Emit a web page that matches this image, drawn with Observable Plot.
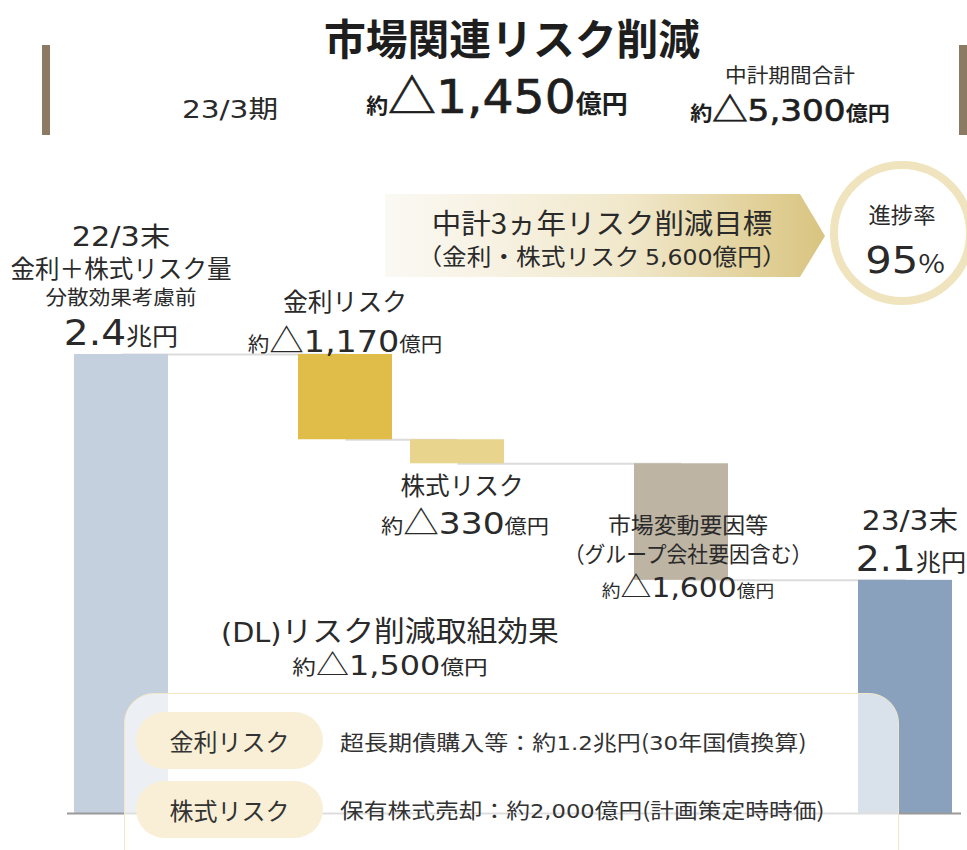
<!DOCTYPE html>
<html><head><meta charset="utf-8">
<script src="https://cdn.jsdelivr.net/npm/d3@7"></script>
<script src="https://cdn.jsdelivr.net/npm/@observablehq/plot@0.6"></script>
<style>
body{margin:0;background:#fff;}
#root{position:relative;width:967px;height:850px;overflow:hidden;font-family:"Noto Sans CJK JP","Noto Sans",sans-serif;color:#2a2a2a;}
#root svg.plot{position:absolute;left:0;top:0;}
.t{position:absolute;white-space:nowrap;line-height:1;transform:translate(-50%,-50%);}
.l{position:absolute;white-space:nowrap;line-height:1;transform:translateY(-50%);transform-origin:left center;}
.n{font-family:"DejaVu Sans",sans-serif;}
.box{position:absolute;left:124px;top:693px;width:775px;height:190px;border-radius:30px;background:rgba(255,255,255,0.68);border:1.5px solid #f2e8c6;box-sizing:border-box;}
.pill{position:absolute;width:187px;height:57px;border-radius:29px;background:#f8efd6;display:flex;align-items:center;justify-content:center;font-size:24px;color:#333;}
</style></head>
<body><div id="root"></div>
<script>
// ---- data (億円) ----
const categories = ["22/3末", "金利リスク", "株式リスク", "市場変動要因等", "23/3末"];
const startTotal = 24000;               // 2.4兆円
const changes = [-1170, -330, -1600];   // 金利, 株式, 市場変動要因等
const barColors = ["#c5d0df", "#dfbd48", "#e8d48c", "#bdb4a3", "#8aa1be"];
const slotOrder = ["22/3末", "_g1", "金利リスク", "株式リスク", "_g2", "市場変動要因等", "_g3", "23/3末"];
const yFloor = 17700;                   // truncated axis floor

// ---- build waterfall rows ----
const rows = [{cat: categories[0], y1: yFloor, y2: startTotal, color: barColors[0]}];
let level = startTotal;
changes.forEach((c, i) => {
  rows.push({cat: categories[i + 1], y1: level, y2: level + c, color: barColors[i + 1]});
  level += c;
});
rows.push({cat: categories[4], y1: yFloor, y2: level, color: barColors[4]});
const connectors = rows.slice(0, -1).map((r, i) => ({a: r.cat, b: rows[i + 1].cat, y: r.y2}));

const chart = Plot.plot({
  width: 967, height: 850, margin: 0,
  x: {type: "band", domain: slotOrder, range: [65, 961], paddingInner: 0.16, paddingOuter: 0.08, axis: null},
  y: {domain: [yFloor, startTotal], range: [813, 354], axis: null},
  color: {type: "identity"},
  marks: [
    Plot.link(connectors, {x1: "a", x2: "b", y1: "y", y2: "y", stroke: "#dcdcdc", strokeWidth: 2}),
    Plot.barY(rows, {x: "cat", y1: "y1", y2: "y2", fill: "color"}),
    Plot.ruleY([yFloor], {stroke: "#9a9a9a", strokeWidth: 2, insetLeft: 67, insetRight: 6})
  ]
});
chart.classList.add("plot");
const root = document.getElementById("root");
root.appendChild(chart);

const xs = chart.scale("x"), ys = chart.scale("y");
const cx = (c) => xs.apply(c) + xs.bandwidth / 2;
const Y = (v) => ys.apply(v);

// place a text block centred at (x, y); optionally fit it to width w
function put(html, x, y, size, w, style = "", cls = "t") {
  const d = document.createElement("div");
  d.className = cls;
  d.style.cssText = `left:${x}px;top:${y}px;font-size:${size}px;${style}`;
  d.innerHTML = html;
  root.appendChild(d);
  if (w) {
    const k = Math.max(0.8, Math.min(1.3, w / d.offsetWidth));
    d.style.transform = (cls === "t" ? "translate(-50%,-50%)" : "translateY(-50%)") + ` scaleX(${k})`;
  }
  return d;
}
const s = (t, px, w = "") => `<span style="font-size:${px}px;${w}">${t}</span>`;
const n = (t, px, w = "") => `<span class="n" style="font-size:${px}px;${w}">${t}</span>`;

// ---- decorative header / banner ----
const deco = document.createElementNS("http://www.w3.org/2000/svg", "svg");
deco.setAttribute("width", 967); deco.setAttribute("height", 850);
deco.style.cssText = "position:absolute;left:0;top:0;";
deco.innerHTML = `
<defs><linearGradient id="g" x1="0" x2="1"><stop offset="0" stop-color="#fbf9f4"/><stop offset="0.55" stop-color="#f1e8cb"/><stop offset="1" stop-color="#d9c480"/></linearGradient></defs>
<rect x="42" y="45" width="8" height="90" fill="#8c7b62"/>
<rect x="959" y="45" width="8" height="90" fill="#8c7b62"/>
<polygon points="385,194 800,194 825,236 800,277 385,277" fill="url(#g)"/>
<circle cx="902" cy="233" r="68" fill="#fff" stroke="#efe4bd" stroke-width="8"/>`;
root.insertBefore(deco, chart);

const B = "font-weight:700;";
const M = "-webkit-text-stroke:0.7px #1e1e1e;";
put("市場関連リスク削減", 512, 37, 42, 376, "font-weight:700;color:#1e1e1e;");
put(n("23/3", 25) + s("期", 25), 230, 108, 25, 96);
put(s("約", 21, B) + s("△", 46, M) + n("1,450", 47, M) + s("億円", 25, B), 497, 94, 47, 262, "color:#1e1e1e;");
put("中計期間合計", 790, 75, 20, 130);
put(s("約", 20, B) + s("△", 32, M) + n("5,300", 31, M) + s("億円", 20, B), 790, 108, 31, 200, "color:#1e1e1e;");

put("中計3ヵ年リスク削減目標", 602, 222, 28, 341);
put("（金利・株式リスク " + n("5,600", 22) + "億円）", 602, 256, 23, 369);
put("進捗率", 902, 213, 22, 67);
put(n("95", 38) + s("%", 26), 905, 258, 38, 79);

// ---- bar labels (anchored to bars via scales) ----
const r0 = rows[0], r1 = rows[1], r2 = rows[2], r3 = rows[3], r4 = rows[4];
put(n("22/3", 26) + "末", cx(r0.cat), Y(r0.y2) - 118, 26, 98);
put("金利＋株式リスク量", cx(r0.cat), Y(r0.y2) - 87, 25, 221);
put("分散効果考慮前", cx(r0.cat), Y(r0.y2) - 57, 20, 151);
put(n("2.4", 36) + s("兆円", 24), cx(r0.cat), Y(r0.y2) - 23, 36, 114);

put("金利リスク", cx(r1.cat), Y(r1.y1) - 54, 25, 124);
put(s("約", 20) + s("△", 32) + n("1,170", 31) + s("億円", 20), cx(r1.cat), Y(r1.y1) - 15, 31, 195);

put("株式リスク", cx(r2.cat) + 5, Y(r2.y2) + 21, 25, 123);
put(s("約", 20) + s("△", 32) + n("330", 31) + s("億円", 20), cx(r2.cat) + 8, Y(r2.y2) + 58, 31, 168);

put("市場変動要因等", cx(r3.cat) + 7, Y(r3.y2) - 57, 22, 160);
put("（グループ会社要因含む）", cx(r3.cat) + 7, Y(r3.y2) - 28, 22, 249);
put(s("約", 17) + s("△", 28) + n("1,600", 27) + s("億円", 17), cx(r3.cat) + 7, Y(r3.y2) + 6, 27, 172);

put(n("23/3", 26) + "末", cx(r4.cat) + 5, Y(r4.y2) - 60, 26, 96);
put(n("2.1", 36) + s("兆円", 24), cx(r4.cat) + 6, Y(r4.y2) - 23, 36, 110);

const dlX = (cx(r1.cat) + cx(r2.cat)) / 2 - 11;
put(n("(DL)", 27) + "リスク削減取組効果", dlX, Y(r2.y2) + 167, 29, 338);
put(s("約", 20) + s("△", 28) + n("1,500", 27) + s("億円", 20), dlX, Y(r2.y2) + 201, 27, 195);

// ---- bottom note box ----
const box = document.createElement("div"); box.className = "box"; root.appendChild(box);
const p1 = document.createElement("div"); p1.className = "pill"; p1.style.cssText = "left:136px;top:712px;"; p1.textContent = "金利リスク"; root.appendChild(p1);
const p2 = document.createElement("div"); p2.className = "pill"; p2.style.cssText = "left:136px;top:781px;"; p2.textContent = "株式リスク"; root.appendChild(p2);
put("超長期債購入等：約" + n("1.2", 20) + "兆円(" + n("30", 20) + "年国債換算)", 340, 742, 21, 466, "color:#333;", "l");
put("保有株式売却：約" + n("2,000", 20) + "億円(計画策定時時価)", 340, 810, 21, 484, "color:#333;", "l");
</script>
</body></html>
